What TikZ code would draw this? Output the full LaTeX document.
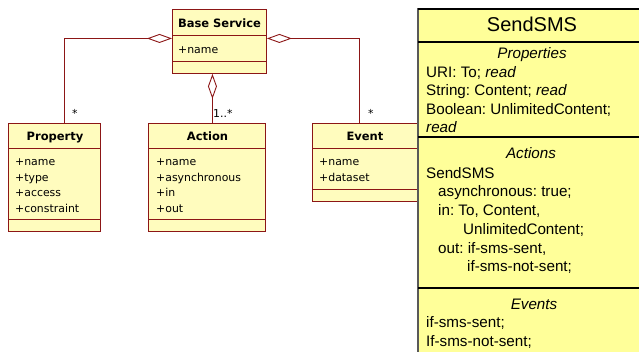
\documentclass[tikz,border=0pt]{standalone}
\usepackage{fontspec}
\setmainfont{Liberation Sans}
\newfontfamily\umlfont{DejaVu Sans}
\usetikzlibrary{arrows.meta}
\frenchspacing
\definecolor{umlred}{RGB}{140,22,22}
\definecolor{umlfill}{RGB}{255,252,190}
\definecolor{smsfill}{RGB}{255,255,153}
\tikzstyle{umlbox} = [draw=umlred,fill=umlfill,line width=0.9pt,rectangle,anchor=north west,inner sep=0pt]
\tikzstyle{umltitle} = [font=\umlfont\bfseries\fontsize{11.5}{13}\selectfont,anchor=base,inner sep=0pt]
\tikzstyle{umlattr} = [font=\umlfont\fontsize{10.9}{13}\selectfont,anchor=base west,inner sep=0pt]
\tikzstyle{umlsep} = [draw=umlred,line width=0.9pt]
\tikzstyle{aggr} = [draw=umlred,line width=0.9pt,{Diamond[open,length=25pt,width=9pt,fill=white]}-]
\tikzstyle{smstext} = [font=\fontsize{15.2}{18}\selectfont,anchor=base west,inner sep=0pt]
\tikzstyle{smshead} = [font=\fontsize{15.2}{18}\selectfont\itshape,anchor=base,inner sep=0pt]

\begin{document}
\begin{tikzpicture}[x=1pt,y=-1pt]
  \useasboundingbox (0,0) rectangle (639,352);

  % classes
  \node[umlbox,minimum width=94pt,minimum height=64pt] (base) at (172,9) {};
  \node[umlbox,minimum width=92pt,minimum height=108pt] (prop) at (8,123) {};
  \node[umlbox,minimum width=117pt,minimum height=108pt] (action) at (148,123) {};
  \node[umlbox,minimum width=105pt,minimum height=78pt] (event) at (312,123) {};

  \draw[umlsep] (base.west |- 0,35) -- (base.east |- 0,35);
  \draw[umlsep] (base.west |- 0,61) -- (base.east |- 0,61);
  \draw[umlsep] (prop.west |- 0,148) -- (prop.east |- 0,148);
  \draw[umlsep] (prop.west |- 0,219) -- (prop.east |- 0,219);
  \draw[umlsep] (action.west |- 0,148) -- (action.east |- 0,148);
  \draw[umlsep] (action.west |- 0,219) -- (action.east |- 0,219);
  \draw[umlsep] (event.west |- 0,148) -- (event.east |- 0,148);
  \draw[umlsep] (event.west |- 0,189) -- (event.east |- 0,189);

  \node[umltitle] (baseT) at (219.5,27.7) {Base Service};
  \node[umlattr] (baseA) at (178,53.3) {+name};
  \node[umltitle] (propT) at (55,140.7) {Property};
  \node[umltitle] (actionT) at (207.5,140.7) {Action};
  \node[umltitle] (eventT) at (365,140.7) {Event};
  \foreach \t [count=\i] in {+name,+type,+access,+constraint}
    \node[umlattr] (propA\i) at (15,{166+15.4*(\i-1)}) {\t};
  \foreach \t [count=\i] in {+name,+asynchronous,+in,+out}
    \node[umlattr] (actionA\i) at (156,{166+15.4*(\i-1)}) {\t};
  \foreach \t [count=\i] in {+name,+dataset}
    \node[umlattr] (eventA\i) at (319,{166+15.4*(\i-1)}) {\t};

  % aggregations
  \draw[aggr] ([yshift=3pt]base.west) -| ([xshift=10pt]prop.north);
  \draw[aggr] ([yshift=3pt]base.east) -| ([xshift=-5.5pt]event.north);
  \draw[aggr] ([xshift=-7pt]base.south) -- ([xshift=-7pt]base.south |- action.north);
  \node[umlattr] (multP) at (72,118) {*};
  \node[umlattr] (multA) at (213,118) {1..*};
  \node[umlattr] (multE) at (368,118) {*};

  % SendSMS description
  \node[fill=smsfill,anchor=north west,minimum width=221pt,minimum height=344pt,inner sep=0pt] (sms) at (418,8) {};
  \draw[gray!70!black,line width=1.4pt] (sms.south west) -- (sms.north west);
  \draw[line width=1.2pt] ([yshift=-1pt]sms.north west) -- ([yshift=-1pt]sms.north east);
  \draw[line width=1.2pt] (sms.west |- 0,42) -- (sms.east |- 0,42);
  \draw[line width=1.2pt] (sms.west |- 0,137) -- (sms.east |- 0,137);
  \draw[line width=1.2pt] (sms.west |- 0,288) -- (sms.east |- 0,288);

  \node[font=\fontsize{20}{24}\selectfont,anchor=base,inner sep=0pt] (smsT) at (532,31.7) {SendSMS};
  \node[smshead] (smsP) at (532,58.7) {Properties};
  \node[smstext] (smsP1) at (426,77.3) {URI: To; \textit{read}};
  \node[smstext] (smsP2) at (426,96) {String: Content; \textit{read}};
  \node[smstext] (smsP3) at (426,114.7) {Boolean: UnlimitedContent;};
  \node[smstext] (smsP4) at (426,133) {\textit{read}};
  \node[smshead] (smsA) at (531,159) {Actions};
  \node[smstext] (smsA1) at (426,178.6) {SendSMS};
  \node[smstext] (smsA2) at (438,196.7) {asynchronous: true;};
  \node[smstext] (smsA3) at (438,216) {in: To, Content,};
  \node[smstext] (smsA4) at (463,234.3) {UnlimitedContent;};
  \node[smstext] (smsA5) at (438,253.3) {out: if-sms-sent,};
  \node[smstext] (smsA6) at (467,271.7) {if-sms-not-sent;};
  \node[smshead] (smsE) at (534,309.3) {Events};
  \node[smstext] (smsE1) at (426,327.3) {if-sms-sent;};
  \node[smstext] (smsE2) at (426,346) {If-sms-not-sent;};
\end{tikzpicture}
\end{document}
